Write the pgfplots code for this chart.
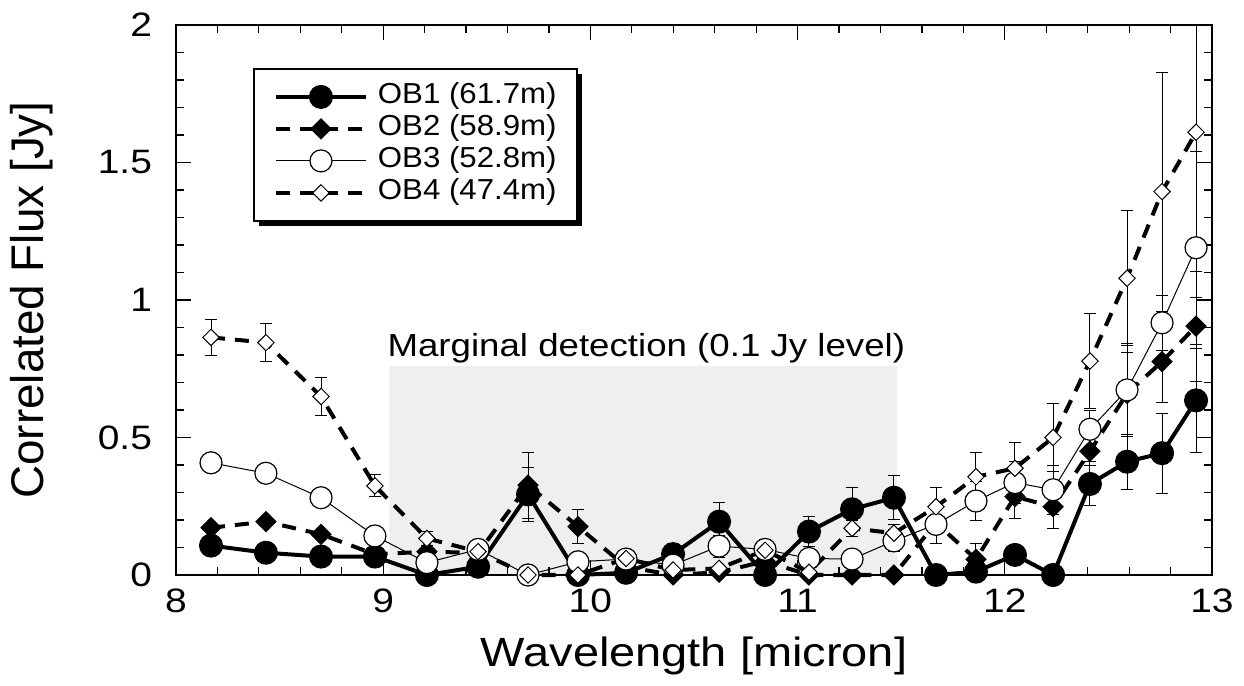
\documentclass[border=0pt]{standalone}
\usepackage{fontspec}
\setmainfont{Liberation Sans}[FakeStretch=1.15]
\newfontfamily\plainsans{Liberation Sans}
\newfontfamily\legsans{Liberation Sans}[FakeStretch=1.08]
\usepackage{pgfplots}
\usepackage{pgfplotstable}
\pgfplotsset{compat=1.18}
\usetikzlibrary{shadows}
\definecolor{shade}{RGB}{239,239,239}
\makeatletter
\tikzset{no preactions/.code={\let\tikz@preactions\pgfutil@empty}}
\makeatother

% wavelength, flux and error for each baseline
\pgfplotstableread{
lam    ob1   e1    ob2   e2    ob3   e3    ob4   e4p   e4m
8.169  0.107 0.010 0.172 0.010 0.408 0.020 0.864 0.064 0.064
8.434  0.081 0.010 0.194 0.010 0.370 0.025 0.845 0.070 0.070
8.700  0.067 0.010 0.148 0.010 0.281 0.025 0.649 0.070 0.070
8.960  0.067 0.010 0.075 0.010 0.142 0.010 0.324 0.040 0.040
9.211  0.000 0.010 0.085 0.010 0.045 0.010 0.133 0.025 0.025
9.458  0.030 0.010 0.080 0.010 0.093 0.010 0.085 0.010 0.010
9.699  0.293 0.097 0.327 0.120 0.000 0.010 0.000 0.010 0.010
9.940  0.000 0.010 0.176 0.063 0.048 0.010 0.000 0.010 0.010
10.172 0.008 0.010 0.030 0.010 0.058 0.020 0.060 0.010 0.010
10.399 0.076 0.037 0.000 0.010 0.036 0.010 0.018 0.010 0.010
10.621 0.194 0.070 0.010 0.010 0.105 0.040 0.024 0.010 0.010
10.843 0.000 0.010 0.050 0.010 0.093 0.035 0.090 0.010 0.010
11.055 0.158 0.053 0.000 0.010 0.060 0.010 0.010 0.010 0.010
11.263 0.239 0.080 0.000 0.010 0.058 0.020 0.170 0.030 0.030
11.465 0.281 0.080 0.000 0.010 0.124 0.040 0.152 0.030 0.030
11.668 0.000 0.010 0.190 0.010 0.184 0.070 0.248 0.070 0.070
11.861 0.012 0.010 0.057 0.058 0.269 0.070 0.357 0.090 0.090
12.049 0.073 0.020 0.285 0.080 0.336 0.075 0.388 0.095 0.095
12.233 0.000 0.010 0.248 0.080 0.310 0.090 0.500 0.125 0.125
12.411 0.331 0.080 0.450 0.050 0.530 0.070 0.778 0.173 0.173
12.590 0.412 0.100 0.660 0.150 0.673 0.170 1.079 0.246 0.246
12.759 0.443 0.145 0.776 0.150 0.917 0.100 1.394 0.434 0.434
12.923 0.635 0.190 0.905 0.200 1.190 0.350 1.610 0.390 0.600
}\flux

\begin{document}
\begin{tikzpicture}
\begin{axis}[
    scale only axis, width=518bp, height=275bp,
    xmin=8, xmax=13, ymin=0, ymax=2,
    xtick={8,9,...,13}, ytick={0,0.5,1,1.5,2},
    minor x tick num=4, minor y tick num=4,
    tick align=inside, major tick length=7.5bp, minor tick length=4bp,
    every tick/.style={black, line width=0.6bp},
    axis line style={line width=0.8bp},
    ticklabel style={font=\fontsize{17}{19}\selectfont},
    xticklabel style={yshift=-3.5bp},
    yticklabel style={xshift=-8.5bp},
    /pgf/number format/assume math mode=true,
    xlabel={Wavelength [micron]}, ylabel={Correlated Flux [Jy]},
    xlabel style={font=\fontsize{20.5}{22}\selectfont,
        at={(axis description cs:0.5,0)}, anchor=base, yshift=-45.5bp},
    ylabel style={font=\plainsans\fontsize{23}{26}\selectfont,
        at={(axis description cs:-0.1393,0.5)}, anchor=center},
    clip=false, set layers,
    legend cell align=left,
    legend image code/.code={
        \draw[no preactions, mark repeat=2, mark phase=2, #1]
            plot coordinates {(0bp,0bp) (22.5bp,0bp) (45bp,0bp)};},
    legend style={at={(0.0743,0.922)}, anchor=north west,
        draw=black, line width=1bp, fill=white,
        drop shadow={shadow xshift=2.5bp, shadow yshift=-2.5bp, opacity=1, fill=black},
        font=\legsans\fontsize{14.5}{16}\selectfont,
        inner xsep=10bp, inner ysep=6bp,
        nodes={inner sep=0pt, text height=11.5bp, text depth=4.5bp},
        /tikz/every odd column/.append style={column sep=5bp}},
    error bars/y dir=both, error bars/y explicit,
    error bars/error bar style={solid, black, line width=0.5bp},
    error bars/error mark options={rotate=90, mark size=3bp, solid, line width=0.5bp},
]
\addplot[fill=shade, draw=none, forget plot, on layer=axis background]
    coordinates {(9.03,0) (9.03,0.76) (11.48,0.76) (11.48,0)} \closedcycle;

\addplot[black, line width=2bp, mark=*, mark size=5bp]
    table[x=lam, y=ob1, y error=e1] {\flux};
\addlegendentry{OB1 (61.7m)}
\addplot[black, line width=2bp, dash pattern=on 7bp off 5bp,
    mark=square*, mark size=2.8bp, mark options={solid, rotate=45}]
    table[x=lam, y=ob2, y error=e2] {\flux};
\addlegendentry{OB2 (58.9m)}
\addplot[black, line width=0.5bp, mark=*, mark size=5.5bp,
    mark options={fill=white, line width=0.6bp}]
    table[x=lam, y=ob3, y error=e3] {\flux};
\addlegendentry{OB3 (52.8m)}
\addplot[black, line width=2bp, dash pattern=on 7bp off 5bp,
    mark=square*, mark size=2.9bp, mark options={solid, rotate=45, fill=white, line width=0.5bp}]
    table[x=lam, y=ob4, y error plus=e4p, y error minus=e4m] {\flux};
\addlegendentry{OB4 (47.4m)}

\node[anchor=base, font=\fontsize{16}{18}\selectfont] at (axis cs:10.27,0.796)
    {Marginal detection (0.1 Jy level)};
\end{axis}
\pgfresetboundingbox
\useasboundingbox (-88bp,-55.5bp) rectangle (534bp,287.5bp);
\end{tikzpicture}
\end{document}
